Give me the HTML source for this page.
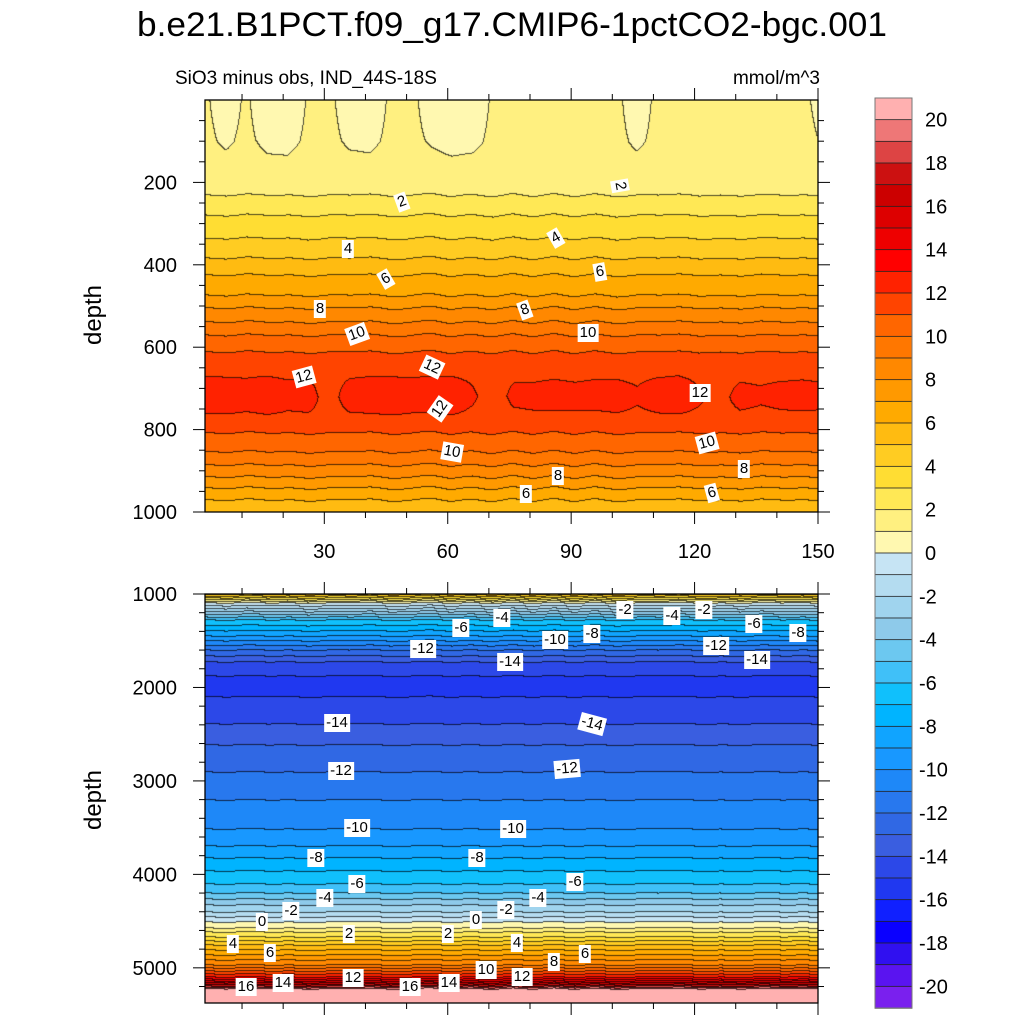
<!DOCTYPE html>
<html><head><meta charset="utf-8"><style>
html,body{margin:0;padding:0;background:#fff;}
#root{position:relative;width:1024px;height:1024px;overflow:hidden;font-family:"Liberation Sans",sans-serif;}
canvas{position:absolute;}
.lbl{position:absolute;background:#fff;font-size:15px;line-height:16px;padding:1px 2px;transform:translate(-50%,-50%);white-space:nowrap;color:#000;}
svg{position:absolute;left:0;top:0;}
</style></head><body>
<div id="root">
<canvas id="cTop" width="613" height="412" style="left:205px;top:100px"></canvas>
<canvas id="cBot" width="613" height="409" style="left:205px;top:594px"></canvas>
<svg id="ax" width="1024" height="1024"></svg>
<div id="labels"></div>
</div>
<script>
// ---- data ----
const profDepth = [0,100,180,231,280,336,384,425,474,505,539,571,612,660,720,780,808,854,886,915,942,971,1000,1096,1278,1450,1600,1727,1877,1990,2100,2390,2615,2905,3204,3515,3696,3825,3964,4103,4200,4264,4328,4403,4456,4510,4574,4617,4670,4713,4756,4809,4863,4916,4970,5002,5034,5066,5098,5120,5141,5195,5237,5380];
const profValue = [1.05,1.1,1.3,2,3,4,5,6,7,8,9,10,11,11.8,12.0,11.8,11,10,9,8,7,6,5.3,0,-6,-9,-12,-14,-15,-15.5,-15,-14,-13,-12,-11,-10,-9,-8,-7,-6,-5,-4,-3,-2,-1,0,1,2,3,4,5,6,7,8,9,10,11,12,13,14,15,18,21,22];
const years = [1,6,11,16,21,26,31,36,41,46,51,56,61,66,71,76,81,86,91,96,101,106,111,116,121,126,131,136,141,146,150];
const wiggle = [0.5,-0.6,0.8,-0.3,0.6,-0.9,0.4,-0.2,0.7,-0.8,0.3,0.9,-0.5,0.2,-0.7,0.6,-0.4,0.8,-0.6,0.3,-0.9,0.5,-0.2,0.7,-0.5,0.4,-0.8,0.6,-0.3,0.5,-0.6];
const surfAnom = [0.02,-0.2,0.02,-0.25,-0.28,0.0,0.05,-0.2,-0.25,0.02,0.05,-0.18,-0.28,-0.25,0.02,0.05,0.05,0.02,0.05,0.05,0.05,-0.22,0.05,0.03,0.05,0.05,0.05,0.03,0.05,0.05,-0.1];
const coreAnom = [0.4,0.4,0.3,0.45,0.25,0.3,-0.3,0.3,0.4,0.45,0.35,0.4,0.45,0.1,-0.3,0.15,0.2,0.25,0.2,0.25,0.3,0.1,0.35,0.45,0.1,-0.2,0.2,0.1,0.2,0.25,0.2];
const cbLevels = [20,18,16,14,12,10,8,6,4,2,0,-2,-4,-6,-8,-10,-12,-14,-16,-18,-20];
const colors = ["#ffb0b0","#ee7777","#dd4444","#cc1111","#cc0000","#dd0000","#ee0000","#ff0000","#ff2200","#ff4400","#ff6600","#ff7700","#ff8800","#ff9900","#ffaa00","#ffbb11","#ffcc22","#ffdd33","#ffe855","#fff080","#fff8b0","#c6e4f4","#b4dcf0","#a0d4ee","#8ecaea","#6cc8f0","#40c0f8","#10c0fc","#00b4ff","#10a4ff","#1898ff","#1e88f8","#2878ee","#3068e4","#3a5ee0","#2c48e8","#2038f0","#1020ff","#0a00ff","#3010f0","#5a14f0","#7a20ee"];

function interp(xs,ys,x){
  if(x<=xs[0])return ys[0];
  for(let i=1;i<xs.length;i++){ if(x<=xs[i]){const f=(x-xs[i-1])/(xs[i]-xs[i-1]);return ys[i-1]+f*(ys[i]-ys[i-1]);} }
  return ys[ys.length-1];
}
function field(t,d){
  const w=interp(years,wiggle,t)+0.5*interp(years,wiggle,151-t);
  const amp = d<1000?5:10;
  let v=interp(profDepth,profValue,d+w*amp);
  const s=interp(years,surfAnom,t);
  if(d<230) v+= s*1.6*(1-d/230);
  const c=interp(years,coreAnom,t);
  v+= c*Math.exp(-Math.pow((d-715)/45,2));
  return v;
}
function hex(c){return [parseInt(c.substr(1,2),16),parseInt(c.substr(3,2),16),parseInt(c.substr(5,2),16)];}
const rgb=colors.map(hex);
function colorIdx(v){ let k=Math.floor(v); let i=20-k; return Math.max(0,Math.min(41,i)); }
function drawPanel(id,dFn){
  const cv=document.getElementById(id),ctx=cv.getContext('2d');
  const W=cv.width,H=cv.height,img=ctx.createImageData(W,H);
  const idx=new Int16Array(W*H);
  for(let j=0;j<H;j++){const d=dFn(j);for(let i=0;i<W;i++){const t=1+i/W*149;idx[j*W+i]=colorIdx(field(t,d));}}
  for(let j=0;j<H;j++)for(let i=0;i<W;i++){
    const k=idx[j*W+i];let c=rgb[k];
    const edge=(j+1<H&&idx[(j+1)*W+i]!==k)||(i+1<W&&idx[j*W+i+1]!==k);
    const p=(j*W+i)*4;
    if(edge){img.data[p]=c[0]*0.3;img.data[p+1]=c[1]*0.3;img.data[p+2]=c[2]*0.3;}
    else{img.data[p]=c[0];img.data[p+1]=c[1];img.data[p+2]=c[2];}
    img.data[p+3]=255;
  }
  ctx.putImageData(img,0,0);
}
drawPanel('cTop',j=>j/412*1000);
drawPanel('cBot',j=>1000+j*10.7);

// ---- axes ----
const NS="http://www.w3.org/2000/svg",svg=document.getElementById('ax');
function el(tag,attrs,txt){const e=document.createElementNS(NS,tag);for(const k in attrs)e.setAttribute(k,attrs[k]);if(txt!==undefined)e.textContent=txt;svg.appendChild(e);return e;}
const xL=205,xR=818;
const xs=t=>xL+(t-1)/149*(xR-xL);
function frame(y0,y1,name){
  const r=el('rect',{x:xL,y:y0,width:xR-xL,height:y1-y0,fill:'none',stroke:'#000','stroke-width':1.3});
  
  
}
frame(100,512,'top-plot-frame');frame(594,1003,'bottom-plot-frame');
for(let t=10;t<=150;t+=10){
  const x=xs(t),maj=t%30===0,L=maj?12:6;
  for(const [yy,dir] of [[100,-1],[512,1],[594,-1],[1003,1]]) el('line',{x1:x,x2:x,y1:yy,y2:yy+dir*L,stroke:'#000','stroke-width':1});
  if(maj){const tx=el('text',{x:x,y:558,'font-size':20,'text-anchor':'middle'},String(t));
    
    }
}
const ysT=d=>100+d/1000*412;
for(let d=50;d<=1000;d+=50){const y=ysT(d),maj=d%200===0,L=maj?12:6;
  el('line',{x1:xL,x2:xL-L,y1:y,y2:y,stroke:'#000'});el('line',{x1:xR,x2:xR+L,y1:y,y2:y,stroke:'#000'});
  if(maj){const tx=el('text',{x:177,y:y+7,'font-size':20,'text-anchor':'end'},String(d));
    
    }}
const ysB=d=>594+(d-1000)/10.7;
for(let d=1200;d<=5200;d+=200){const y=ysB(d),maj=d%1000===0,L=maj?12:6;
  el('line',{x1:xL,x2:xL-L,y1:y,y2:y,stroke:'#000'});el('line',{x1:xR,x2:xR+L,y1:y,y2:y,stroke:'#000'});}
for(let d=1000;d<=5000;d+=1000){const tx=el('text',{x:177,y:ysB(d)+7,'font-size':20,'text-anchor':'end'},String(d));
  
  }
el('line',{x1:xL,x2:xL-12,y1:594,y2:594,stroke:'#000'});el('line',{x1:xR,x2:xR+12,y1:594,y2:594,stroke:'#000'});
let tt=el('text',{x:512,y:36,'font-size':34,'text-anchor':'middle',textLength:750,lengthAdjust:'spacingAndGlyphs'},'b.e21.B1PCT.f09_g17.CMIP6-1pctCO2-bgc.001');

tt=el('text',{x:175,y:84,'font-size':19},'SiO3 minus obs, IND_44S-18S');

tt=el('text',{x:820,y:84,'font-size':19,'text-anchor':'end'},'mmol/m^3');

tt=el('text',{x:101,y:315,'font-size':24,'text-anchor':'middle',transform:'rotate(-90 101 315)'},'depth');

tt=el('text',{x:101,y:800,'font-size':24,'text-anchor':'middle',transform:'rotate(-90 101 800)'},'depth');

const cbTop=98,cbH=910/42;
for(let i=0;i<42;i++){const r=el('rect',{x:875,y:cbTop+i*cbH,width:37,height:cbH+0.3,fill:colors[i],stroke:'#222','stroke-width':0.8});
  }
el('rect',{x:875,y:cbTop,width:37,height:910,fill:'none',stroke:'#777','stroke-width':1});
cbLevels.forEach(v=>{const y=cbTop+(21-v)*cbH;const tx=el('text',{x:v<0?919:925,y:y+7,'font-size':20},String(v));
  });

const labs=[["2",402,202,-20],["2",620,186,80],["4",348,249,0],["4",556,238,-30],["6",386,279,-30],["6",600,272,-10],["8",320,309,0],["8",525,310,-20],["10",357,334,-20],["10",588,333,0],["12",304,377,-15],["12",432,367,25],["12",440,409,-55],["12",700,393,0],["10",452,452,10],["10",707,443,-15],["8",558,476,0],["8",744,469,0],["6",526,494,0],["6",712,493,-15],
["-2",625,610,0],["-4",672,616,0],["-2",704,610,0],["-4",502,618,0],["-6",461,628,0],["-6",754,624,0],["-8",592,634,0],["-8",798,633,0],["-10",555,640,0],["-12",423,649,0],["-12",716,646,0],["-14",510,662,0],["-14",757,660,0],["-14",337,723,0],["-14",592,724,15],["-12",341,771,0],["-12",567,769,-5],["-10",357,828,0],["-10",513,829,0],["-8",316,858,0],["-8",477,858,0],["-6",357,884,0],["-6",575,882,0],["-4",325,898,0],["-4",538,898,0],["-2",291,911,0],["-2",506,910,0],["0",262,922,0],["0",476,920,0],["2",349,934,0],["2",448,934,0],["4",233,944,0],["4",517,943,0],["6",270,953,0],["6",585,954,0],["8",554,962,0],["10",486,970,0],["12",353,978,0],["12",522,977,0],["14",283,983,0],["14",449,983,0],["16",246,987,0],["16",410,987,0]];
const LD=document.getElementById('labels');
labs.forEach(l=>{const d=document.createElement('div');d.className='lbl';d.textContent=l[0];
  d.style.left=l[1]+'px';d.style.top=l[2]+'px';d.style.transform='translate(-50%,-50%) rotate('+l[3]+'deg)';
  
  
  LD.appendChild(d);});
</script>
</body></html>
